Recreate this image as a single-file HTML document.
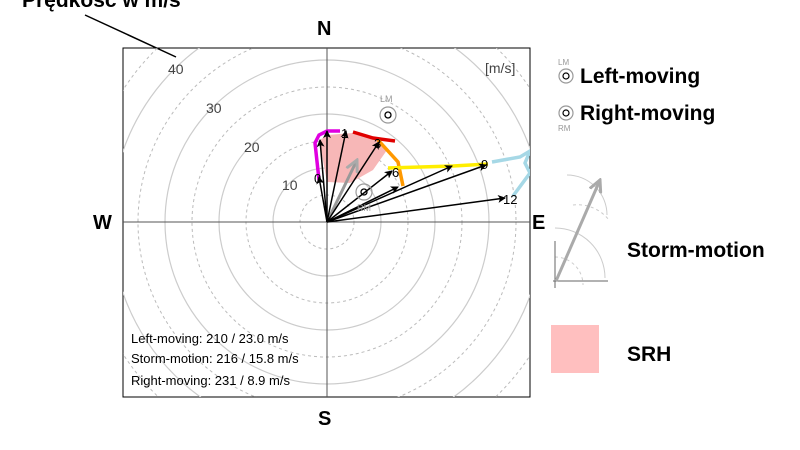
<!DOCTYPE html>
<html style="margin:0;width:800px;height:450px;overflow:hidden"><head><style>
body{margin:0;background:#fff;width:800px;height:450px;overflow:hidden}
svg{display:block;position:absolute;left:0;top:0}
.lg{font-family:"Liberation Sans",sans-serif;font-weight:bold;fill:#000}
</style></head><body>
<svg width="800" height="450" viewBox="0 0 800 450" xmlns="http://www.w3.org/2000/svg">
<defs>
<clipPath id="c"><rect x="123" y="48" width="407" height="349"/></clipPath>
<marker id="ah" markerWidth="8" markerHeight="8" refX="7" refY="4" orient="auto" markerUnits="userSpaceOnUse"><path d="M0,0 L8,4 L0,8 L2,4z" fill="#000"/></marker>
<marker id="ag" markerWidth="14" markerHeight="14" refX="12" refY="7" orient="auto" markerUnits="userSpaceOnUse"><path d="M0,1 L12,7 L0,13" fill="none" stroke="#aaa" stroke-width="3"/></marker>
</defs>
<text x="22" y="7" class="lg" font-size="21">Prędkość w m/s</text>
<line x1="85" y1="15" x2="176" y2="57" stroke="#000" stroke-width="1.5"/>
<rect x="123" y="48" width="407" height="349" fill="none" stroke="#000" stroke-width="1"/>
<g clip-path="url(#c)" fill="none">
<g stroke="#ccc" stroke-width="1.2">
<circle cx="327" cy="222" r="54"/><circle cx="327" cy="222" r="108"/><circle cx="327" cy="222" r="162"/><circle cx="327" cy="222" r="216"/><circle cx="327" cy="222" r="270"/>
</g>
<g stroke="#bbb" stroke-width="1" stroke-dasharray="3,3">
<circle cx="327" cy="222" r="27"/><circle cx="327" cy="222" r="81"/><circle cx="327" cy="222" r="135"/><circle cx="327" cy="222" r="189"/><circle cx="327" cy="222" r="243"/>
</g>
<line x1="327" y1="48" x2="327" y2="397" stroke="#555"/>
<line x1="123" y1="222" x2="530" y2="222" stroke="#555"/>
<polygon points="320,140 327,135 353,133 377,138 387,150 373,170 350,183 327,182 322,155" fill="#f7b7b7" stroke="none"/>
<polyline points="319,180 315,143 319,135 327,131 340,131" stroke="#e000e0" stroke-width="3.5"/>
<polyline points="353,132 373,138 395,141" stroke="#e00000" stroke-width="3.5"/>
<polyline points="378,140 398,162 403,186" stroke="#ff9900" stroke-width="3.5"/>
<polyline points="388,168 453,166 488,164" stroke="#ffee00" stroke-width="3.5"/>
<polyline points="492,162 520,157 530,151 525,163 530,173 513,196" stroke="#a6d8e6" stroke-width="3.5"/>
<line x1="327" y1="222" x2="357" y2="160" stroke="#999" stroke-width="3" marker-end="url(#ag)"/>
<g stroke="#000" stroke-width="1.5" marker-end="url(#ah)">
<line x1="327" y1="222" x2="319" y2="177"/>
<line x1="327" y1="222" x2="320" y2="140"/>
<line x1="327" y1="222" x2="327" y2="131"/>
<line x1="327" y1="222" x2="346" y2="131"/>
<line x1="327" y1="222" x2="379" y2="142"/>
<line x1="327" y1="222" x2="392" y2="171"/>
<line x1="327" y1="222" x2="398" y2="187"/>
<line x1="327" y1="222" x2="452" y2="166"/>
<line x1="327" y1="222" x2="486" y2="165"/>
<line x1="327" y1="222" x2="505" y2="198"/>
</g>
<g font-family="Liberation Sans,sans-serif" font-size="13" fill="#000" stroke="none">
<text x="314" y="183">0</text><text x="341" y="138">1</text><text x="374" y="148">3</text><text x="392" y="177">6</text><text x="481" y="169">9</text><text x="503" y="204">12</text>
</g>
<g stroke="#999" stroke-width="1.2"><circle cx="388" cy="115" r="8"/><circle cx="364" cy="192" r="8"/></g>
<g stroke="#000" stroke-width="1.3"><circle cx="388" cy="115" r="3"/><circle cx="364" cy="192" r="3"/></g>
<g font-family="Liberation Sans,sans-serif" font-size="9" fill="#999" stroke="none"><text x="380" y="102">LM</text><text x="357" y="211">RM</text></g>
<g font-family="Liberation Sans,sans-serif" font-size="14" fill="#444" stroke="none">
<text x="282" y="190">10</text><text x="244" y="152">20</text><text x="206" y="113">30</text><text x="168" y="74">40</text>
<text x="485" y="73">[m/s]</text>
</g>
</g>
<g font-family="Liberation Sans,sans-serif" font-size="13" fill="#000">
<text x="131" y="343">Left-moving: 210 / 23.0 m/s</text>
<text x="131" y="363">Storm-motion: 216 / 15.8 m/s</text>
<text x="131" y="385">Right-moving: 231 / 8.9 m/s</text>
</g>
<g class="lg" font-size="20">
<text x="317" y="35">N</text><text x="318" y="425">S</text><text x="93" y="229">W</text><text x="532" y="229">E</text>
</g>
<g stroke="#999" fill="none" stroke-width="1.2"><circle cx="566" cy="76" r="7"/><circle cx="566" cy="113" r="7"/></g>
<g stroke="#000" fill="none" stroke-width="1.2"><circle cx="566" cy="76" r="3"/><circle cx="566" cy="113" r="3"/></g>
<g font-family="Liberation Sans,sans-serif" font-size="8" fill="#999"><text x="558" y="65">LM</text><text x="558" y="131">RM</text></g>
<g class="lg" font-size="21">
<text x="580" y="83">Left-moving</text><text x="580" y="120">Right-moving</text>
<text x="627" y="257">Storm-motion</text><text x="627" y="361">SRH</text>
</g>
<g fill="none" stroke="#ccc" stroke-width="1">
<path d="M567,175 A40,40 0 0 1 607,215"/>
<path d="M555,228 A50,50 0 0 1 605,278" />
<path d="M555,257 A28,28 0 0 1 583,285" stroke-dasharray="3,3"/>
<path d="M573,205 A40,40 0 0 1 609,220" stroke-dasharray="3,3"/>
</g>
<line x1="555" y1="241" x2="555" y2="288" stroke="#666"/>
<line x1="553" y1="281" x2="608" y2="281" stroke="#666"/>
<line x1="556" y1="281" x2="600" y2="180" stroke="#aaa" stroke-width="3" marker-end="url(#ag)"/>
<rect x="551" y="325" width="48" height="48" fill="#ffbfbf"/>
</svg>
</body></html>
